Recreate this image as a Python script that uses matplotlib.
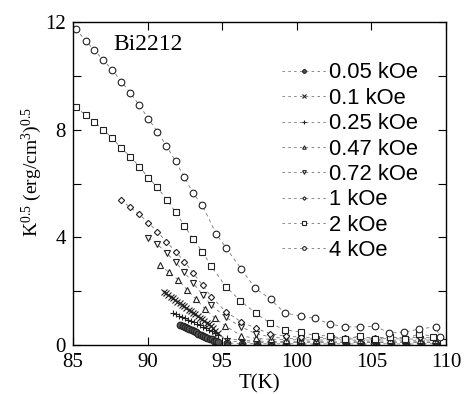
import matplotlib
matplotlib.use("Agg")
import matplotlib.pyplot as plt
from matplotlib.ticker import MultipleLocator

plt.rcParams["mathtext.fontset"] = "custom"
plt.rcParams["mathtext.rm"] = "Liberation Serif"
plt.rcParams["mathtext.it"] = "Liberation Serif:italic"

# ---------------- data ----------------
labels = ["0.05 kOe", "0.1 kOe", "0.25 kOe", "0.47 kOe", "0.72 kOe", "1 kOe", "2 kOe", "4 kOe"]
markers = ["o", "x", "+", "^", "v", "D", "s", "o"]

tail_T = [95.3, 96.3, 97.3, 98.3, 99.3, 100.3, 101.3, 102.3, 103.3, 104.3,
          105.3, 106.3, 107.3, 108.3, 109.3, 109.8]

T_005 = [92.2, 92.35, 92.5, 92.65, 92.8, 92.95, 93.1, 93.25, 93.4, 93.55, 93.7,
         93.85, 94.0, 94.15, 94.3, 94.45, 94.6, 94.75] + tail_T
K_005 = [0.74, 0.71, 0.67, 0.63, 0.59, 0.55, 0.51, 0.47, 0.43, 0.39, 0.35,
         0.31, 0.28, 0.24, 0.21, 0.17, 0.14, 0.11,
         0.08, 0.06, 0.05, 0.05, 0.05, 0.05, 0.04, 0.05, 0.05, 0.04,
         0.05, 0.05, 0.04, 0.05, 0.05, 0.05]

T_01 = [91.1, 91.25, 91.4, 91.55, 91.7, 91.85, 92.0, 92.15, 92.3, 92.45, 92.6,
        92.75, 92.9, 93.05, 93.2, 93.35, 93.5, 93.65, 93.8, 93.95, 94.1, 94.25,
        94.4, 94.55, 94.7] + tail_T
K_01 = [1.98, 1.92, 1.86, 1.80, 1.74, 1.68, 1.62, 1.56, 1.50, 1.44, 1.38,
        1.32, 1.26, 1.20, 1.14, 1.08, 1.02, 0.96, 0.90, 0.84, 0.77, 0.70,
        0.62, 0.54, 0.46,
        0.15, 0.12, 0.10, 0.10, 0.09, 0.10, 0.09, 0.10, 0.10, 0.09,
        0.10, 0.09, 0.10, 0.09, 0.10, 0.10]

T_025 = [91.7, 91.9, 92.1, 92.3, 92.5, 92.7, 92.9, 93.1, 93.3, 93.5, 93.7,
         93.9, 94.1, 94.3, 94.5, 94.7] + tail_T
K_025 = [1.20, 1.15, 1.10, 1.05, 1.00, 0.95, 0.90, 0.85, 0.80, 0.75, 0.69,
         0.63, 0.57, 0.51, 0.44, 0.37,
         0.25, 0.18, 0.15, 0.14, 0.13, 0.12, 0.13, 0.12, 0.12, 0.13,
         0.12, 0.12, 0.13, 0.12, 0.12, 0.12]

T_047 = [90.84, 91.44, 92.07, 92.67, 93.26, 93.86, 94.53, 95.2,
         96.26, 97.26, 98.26, 99.26, 100.26, 101.26, 102.26, 103.26,
         104.26, 105.26, 106.26, 107.26, 108.26, 109.26]
K_047 = [2.97, 2.70, 2.42, 2.04, 1.71, 1.34, 0.99, 0.72,
         0.35, 0.25, 0.22, 0.20, 0.20, 0.18, 0.20, 0.19,
         0.18, 0.20, 0.18, 0.19, 0.18, 0.20]

T_072 = [90.05, 90.66, 91.29, 91.89, 92.47, 93.07, 93.68, 94.26, 95.25,
         96.26, 97.26, 98.26, 99.26, 100.26, 101.26, 102.26, 103.26,
         104.26, 105.26, 106.26, 107.26, 108.26, 109.26]
K_072 = [3.99, 3.74, 3.41, 3.07, 2.70, 2.29, 1.88, 1.49, 1.03,
         0.68, 0.43, 0.30, 0.25, 0.24, 0.22, 0.25, 0.22,
         0.24, 0.22, 0.25, 0.22, 0.24, 0.22]

T_1 = [88.2, 88.83, 89.43, 90.05, 90.66, 91.26, 91.89, 92.47, 93.07, 93.68,
       94.26, 95.25, 96.26, 97.26, 98.22, 99.26, 100.26, 101.26, 102.26,
       103.26, 104.26, 105.26, 106.26, 107.26, 108.26, 109.26]
K_1 = [5.39, 5.12, 4.86, 4.55, 4.21, 3.84, 3.47, 3.10, 2.67, 2.23,
       1.80, 1.24, 0.87, 0.62, 0.43, 0.33, 0.30, 0.28, 0.30, 0.27,
       0.29, 0.27, 0.30, 0.27, 0.29, 0.28]

T_2 = [85.18, 85.85, 86.41, 87.03, 87.64, 88.24, 88.85, 89.45, 90.05, 90.66,
       91.29, 91.89, 92.47, 93.07, 93.66, 94.26, 95.25, 96.21, 97.26, 98.22,
       99.23, 100.28, 101.24, 102.25, 103.26, 104.26, 105.27, 106.27, 107.28,
       108.22, 109.16, 109.77]
K_2 = [8.84, 8.55, 8.29, 8.00, 7.68, 7.32, 7.00, 6.63, 6.22, 5.86,
       5.39, 4.93, 4.43, 3.93, 3.47, 2.94, 2.17, 1.65, 1.18, 0.81,
       0.56, 0.49, 0.35, 0.35, 0.22, 0.35, 0.22, 0.31, 0.22,
       0.43, 0.31, 0.12]

T_4 = [85.18, 85.85, 86.41, 87.03, 87.64, 88.24, 88.85, 89.45, 90.05, 90.66,
       91.26, 91.87, 92.45, 93.05, 93.66, 94.6, 95.27, 96.28, 97.2, 98.25,
       99.18, 100.28, 101.24, 102.25, 103.25, 104.26, 105.27, 106.2, 107.2,
       108.2, 109.3, 109.6]
K_4 = [11.74, 11.31, 10.96, 10.59, 10.22, 9.79, 9.36, 8.91, 8.41, 7.92,
       7.41, 6.83, 6.26, 5.64, 5.20, 4.13, 3.60, 2.83, 2.12, 1.70,
       1.20, 1.08, 0.99, 0.78, 0.68, 0.68, 0.70, 0.45, 0.48,
       0.60, 0.68, 0.30]

series = [(T_005, K_005), (T_01, K_01), (T_025, K_025), (T_047, K_047),
          (T_072, K_072), (T_1, K_1), (T_2, K_2), (T_4, K_4)]

x_ticks = [85, 90, 95, 100, 105, 110]
y_ticks = [0, 4, 8, 12]

# ---------------- plotting ----------------
fig = plt.figure(figsize=(4.68, 3.94), dpi=100)
ax = fig.add_axes([0.156, 0.124, 0.797, 0.820])

msizes = {"o": 4.8, "x": 4, "+": 5, "^": 4.5, "v": 4.8, "D": 3.2, "s": 4.8}
for (T, K), lab, m in zip(series, labels, markers):
    ms = msizes[m]
    mfc = "white" if m in "s^vDo" else "none"
    if lab == "0.05 kOe":
        mfc = "#555555"
    ax.plot(T, K, linestyle=(0, (4, 4)), color="#777777", linewidth=0.6,
            marker=m, markersize=ms, markerfacecolor=mfc,
            markeredgecolor="#222222", markeredgewidth=0.8, label=lab)

ax.set_xlim(85, 110)
ax.set_ylim(0, 12)
ax.set_xticks(x_ticks)
ax.set_yticks(y_ticks)
ax.yaxis.set_minor_locator(MultipleLocator(2))
ax.tick_params(which="both", direction="in", top=True, right=True)
ax.tick_params(which="major", length=6, width=0.8, labelsize=15)
ax.tick_params(axis="x", which="major", pad=6)
ax.tick_params(axis="y", which="major", pad=5)
ax.tick_params(which="minor", length=6, width=0.8)
for lbl in ax.get_xticklabels() + ax.get_yticklabels():
    lbl.set_family("Liberation Serif")
for s in ax.spines.values():
    s.set_linewidth(1.0)

ax.set_xlabel("T(K)", family="Liberation Serif", fontsize=15, labelpad=1)
ax.set_ylabel(r"K$^{0.5}$ (erg/cm$^{3}$)$^{0.5}$", family="Liberation Serif",
              fontsize=14)
ax.yaxis.set_label_coords(-0.078, 0.535)
ax.text(87.68, 10.97, "Bi2212", family="Liberation Serif", fontsize=17,
        va="baseline")

leg = ax.legend(loc="upper left", bbox_to_anchor=(0.56, 0.875), frameon=False,
                prop={"family": "Liberation Sans", "size": 15.8},
                handlelength=2.05, handletextpad=0.1, labelspacing=0.2,
                borderaxespad=0.0, borderpad=0.0, markerscale=0.55)
for h in leg.get_lines():
    h.set_linestyle((0, (3, 4)))

fig.savefig("out.png", dpi=100)
